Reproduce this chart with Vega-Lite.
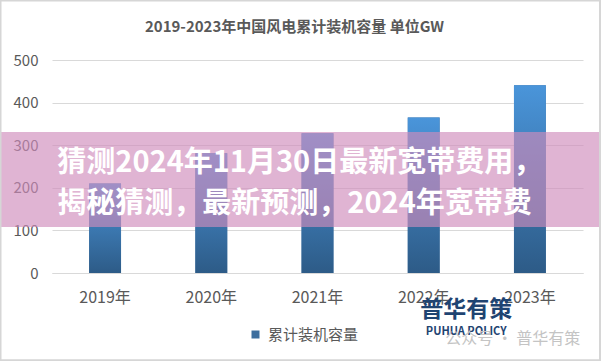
{
  "$schema": "https://vega.github.io/schema/vega-lite/v6.json",
  "autosize": "none",
  "width": 531,
  "height": 213,
  "padding": {"left": 52, "top": 60, "right": 18, "bottom": 88},
  "background": "white",
  "title": {
    "text": "2019-2023年中国风电累计装机容量 单位GW",
    "fontSize": 15,
    "fontWeight": "bold",
    "color": "#595959",
    "font": "Noto Sans CJK SC",
    "anchor": "middle",
    "frame": "group",
    "baseline": "alphabetic",
    "dx": -23,
    "offset": -49
  },
  "config": {"view": {"stroke": null}, "font": "Noto Sans CJK SC"},
  "datasets": {
    "capacity": [
      {"year": "2019年", "value": 210, "series": "累计装机容量"},
      {"year": "2020年", "value": 281, "series": "累计装机容量"},
      {"year": "2021年", "value": 328, "series": "累计装机容量"},
      {"year": "2022年", "value": 365, "series": "累计装机容量"},
      {"year": "2023年", "value": 441, "series": "累计装机容量"}
    ],
    "bannerLines": [
      {"line": 1, "label": "猜测2024年11月30日最新宽带费用，"},
      {"line": 2, "label": "揭秘猜测，最新预测，2024年宽带费"}
    ],
    "one": [{"label": ""}],
    "logo": [{"label": "普华有策"}],
    "logoEn": [{"label": "PUHUA POLICY"}],
    "wechat": [{"label": "公众号  ·  普华有策"}]
  },
  "layer": [
    {
      "data": {"name": "capacity"},
      "encoding": {
        "x": {
          "field": "year", "type": "nominal", "sort": null,
          "scale": {"paddingInner": 0.7, "paddingOuter": 0.35},
          "axis": {
            "title": null, "labelAngle": 0, "labelFontSize": 16, "labelColor": "#595959",
            "labelPadding": 16, "ticks": false, "domainColor": "#d9d9d9", "grid": false
          }
        },
        "y": {
          "field": "value", "type": "quantitative",
          "scale": {"domain": [0, 500]},
          "axis": {
            "title": null, "values": [0, 100, 200, 300, 400, 500], "labelFontSize": 15,
            "labelColor": "#595959", "labelPadding": 14, "ticks": false, "domain": false,
            "gridColor": "#d9d9d9"
          }
        }
      },
      "layer": [
        {
          "mark": {"type": "bar"},
          "encoding": {
            "fill": {
              "field": "series", "type": "nominal",
              "scale": {"range": ["#3d6e9e"]},
              "legend": {
                "title": null, "orient": "none", "legendX": 196, "legendY": 267,
                "symbolType": "square", "symbolSize": 64, "labelFontSize": 15,
                "labelColor": "#595959", "labelOffset": 5
              }
            }
          }
        },
        {
          "mark": {"type": "bar", "color": {"gradient": "linear", "x1": 0, "y1": 0, "x2": 0, "y2": 1,
                "stops": [{"offset": 0, "color": "#4a95da"}, {"offset": 1, "color": "#2d5b87"}]}}
        }
      ]
    },
    {
      "layer": [
        {
          "data": {"name": "one"},
          "mark": {"type": "rect", "fill": "#d08cbc", "opacity": 0.65, "clip": false},
          "encoding": {
            "x": {"datum": -0.1, "type": "quantitative", "scale": {"domain": [0, 1]}, "axis": null},
            "x2": {"datum": 1.04},
            "y": {"datum": 108, "type": "quantitative", "scale": {"domain": [0, 500]}},
            "y2": {"datum": 331}
          }
        },
        {
          "data": {"name": "bannerLines"},
          "transform": [{"filter": "datum.line == 1"}],
          "mark": {"type": "text", "align": "left", "baseline": "middle", "fontSize": 29, "fontWeight": "bold", "color": "white", "clip": false},
          "encoding": {
            "x": {"datum": 0.01, "type": "quantitative", "scale": {"domain": [0, 1]}, "axis": null},
            "y": {"datum": 258, "type": "quantitative", "scale": {"domain": [0, 500]}},
            "text": {"field": "label"}
          }
        },
        {
          "data": {"name": "bannerLines"},
          "transform": [{"filter": "datum.line == 2"}],
          "mark": {"type": "text", "align": "left", "baseline": "middle", "fontSize": 29, "fontWeight": "bold", "color": "white", "clip": false},
          "encoding": {
            "x": {"datum": 0.01, "type": "quantitative", "scale": {"domain": [0, 1]}, "axis": null},
            "y": {"datum": 162, "type": "quantitative", "scale": {"domain": [0, 500]}},
            "text": {"field": "label"}
          }
        },
        {
          "data": {"name": "logo"},
          "mark": {"type": "text", "align": "center", "baseline": "middle", "fontSize": 23, "fontWeight": "bold", "color": "#1f4472", "clip": false},
          "encoding": {
            "x": {"datum": 0.78, "type": "quantitative", "scale": {"domain": [0, 1]}, "axis": null},
            "y": {"datum": -87, "type": "quantitative", "scale": {"domain": [0, 500]}},
            "text": {"field": "label"}
          }
        },
        {
          "data": {"name": "logoEn"},
          "mark": {"type": "text", "align": "center", "baseline": "middle", "fontSize": 11, "fontWeight": "bold", "color": "#1f4472", "clip": false},
          "encoding": {
            "x": {"datum": 0.78, "type": "quantitative", "scale": {"domain": [0, 1]}, "axis": null},
            "y": {"datum": -138, "type": "quantitative", "scale": {"domain": [0, 500]}},
            "text": {"field": "label"}
          }
        },
        {
          "data": {"name": "wechat"},
          "mark": {"type": "text", "align": "right", "baseline": "middle", "fontSize": 16, "color": "#c4c4c4", "clip": false},
          "encoding": {
            "x": {"datum": 0.995, "type": "quantitative", "scale": {"domain": [0, 1]}, "axis": null},
            "y": {"datum": -155, "type": "quantitative", "scale": {"domain": [0, 500]}},
            "text": {"field": "label"}
          }
        },
        {
          "data": {"name": "one"},
          "mark": {"type": "rect", "fill": null, "stroke": "#d6d6d6", "strokeWidth": 3, "clip": false},
          "encoding": {
            "x": {"datum": -0.0979, "type": "quantitative", "scale": {"domain": [0, 1]}, "axis": null},
            "x2": {"datum": 1.033},
            "y": {"datum": 641, "type": "quantitative", "scale": {"domain": [0, 500]}},
            "y2": {"datum": -206}
          }
        }
      ]
    }
  ],
  "resolve": {"scale": {"x": "independent"}}
}
